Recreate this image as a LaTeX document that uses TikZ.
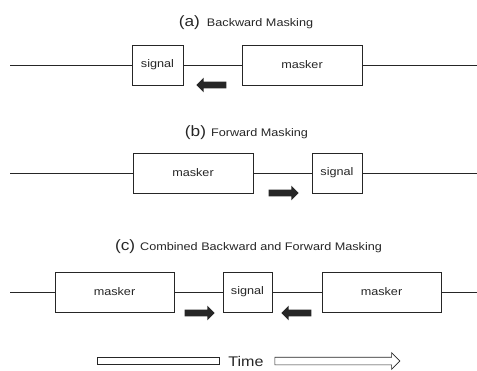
\documentclass[tikz,border=0pt]{standalone}
\usepackage{fontspec}
\setmainfont{Liberation Sans}[FakeStretch=1.15]
\usetikzlibrary{shapes.arrows}
\usetikzlibrary{positioning}
\tikzset{every picture/.style={line width=0.8pt}}

\begin{document}
\begin{tikzpicture}[x=1pt,y=-1pt,black!85,
 box/.style={draw,minimum height=40pt,inner sep=0pt,font=\fontsize{11}{13}\selectfont},
 push/.style={single arrow,fill,draw=none,minimum height=30pt,minimum width=14pt,inner sep=3pt,single arrow head extend=4pt},
 title/.style={font=\fontsize{11}{13}\selectfont}]
\useasboundingbox (0,0) rectangle (477,370);
% (a) backward masking
\node[title] (ta) at (246,23) {{\fontsize{15}{15}\selectfont(a)}\hspace{7pt}Backward Masking};
\coordinate (a0) at (10,65);
\coordinate (a1) at (477,65);
\node[box,minimum width=51pt] (sa) at (157.5,65) {signal};
\node[box,minimum width=120pt] (ma) at (302,65) {masker};
\draw[line width=0.6pt] (a0) -- (sa) -- (ma) -- (a1);
\node[push,shape border rotate=180] (pa) at (213,85) {};
% (b) forward masking
\node[title] (tb) at (246.5,133) {{\fontsize{15}{15}\selectfont(b)}\hspace{5pt}Forward Masking};
\coordinate (b0) at (10,173);
\coordinate (b1) at (477,173);
\node[box,minimum width=120pt] (mb) at (193,173) {masker};
\node[box,minimum width=50pt] (sb) at (337,173) {signal};
\draw[line width=0.6pt] (b0) -- (mb) -- (sb) -- (b1);
\node[push] (pb) at (282,193) {};
% (c) both
\node[title] (tc) at (248.5,247) {{\fontsize{15}{15}\selectfont(c)}\hspace{5pt}Combined Backward and Forward Masking};
\coordinate (c0) at (10,292);
\coordinate (c1) at (477,292);
\node[box,minimum width=119pt] (mc) at (114.5,292) {masker};
\node[box,minimum width=49pt] (sc) at (247.5,292) {signal};
\node[box,minimum width=119pt] (nc) at (381.5,292) {masker};
\draw[line width=0.6pt] (c0) -- (mc) -- (sc) -- (nc) -- (c1);
\node[push] (pc) at (198,313) {};
\node[push,shape border rotate=180] (qc) at (298,313) {};
% time axis
\node[draw,fill=white,line width=0.6pt,minimum width=122pt,minimum height=7pt,inner sep=0pt] (tl) at (158,361) {};
\node[font=\fontsize{14}{14}\selectfont,inner sep=0pt] (tm) at (246,361) {Time};
\node[single arrow,draw,fill=white,line width=0.6pt,minimum height=125pt,minimum width=16pt,inner sep=3.5pt,single arrow head extend=4.5pt] (tr) at (335.5,361) {};
\end{tikzpicture}
\end{document}
